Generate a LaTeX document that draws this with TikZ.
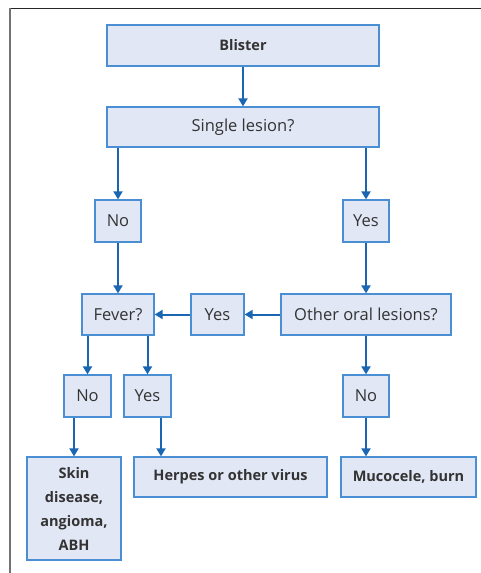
\documentclass[tikz,border=0pt]{standalone}
\usepackage{fontspec}
\setmainfont{Open Sans}
\usetikzlibrary{arrows.meta,calc}
\definecolor{boxfill}{HTML}{E1E7F5}
\definecolor{boxdraw}{HTML}{4A8FD4}
\definecolor{arr}{HTML}{1A66B3}
\definecolor{txt}{HTML}{333333}
\begin{document}
\begin{tikzpicture}[x=1pt,y=-1pt,
  box/.style={draw=boxdraw,fill=boxfill,line width=1.3pt,rectangle,inner sep=0pt,text=txt,font=\fontsize{16.5}{18}\selectfont},
  bbox/.style={box,font=\fontsize{14.5}{24}\selectfont\bfseries},
  arrow/.style={draw=arr,line width=2pt,-{Triangle[width=9pt,length=8pt]}}]
\useasboundingbox (0,0) rectangle (481,573);
% frame
\draw[line width=1.5pt,color=black!85] (9,8.5) -- (481,8.5);
\draw[line width=1.5pt,color=black!55] (10,8) -- (10,573);
% nodes
\node[bbox,minimum width=272pt,minimum height=41pt] (blister) at (243,45.5) {Blister};
\node[box,minimum width=272pt,minimum height=40pt] (single) at (243,127) {Single lesion?};
\node[box,minimum width=46pt,minimum height=42pt] (no1) at (118,221) {No};
\node[box,minimum width=46pt,minimum height=42pt] (yes1) at (366,221) {Yes};
\node[box,minimum width=72pt,minimum height=41pt] (fever) at (118,314.5) {Fever?};
\node[box,minimum width=53pt,minimum height=41pt] (yes2) at (217.5,314.5) {Yes};
\node[box,minimum width=170pt,minimum height=41pt] (other) at (366,314.5) {Other oral lesions?};
\node[box,minimum width=47pt,minimum height=42pt] (no2) at (87.5,396) {No};
\node[box,minimum width=47pt,minimum height=42pt] (yes3) at (147.5,396) {Yes};
\node[box,minimum width=46pt,minimum height=42pt] (no3) at (366,396) {No};
\node[bbox,text width=94pt,align=center,minimum height=103pt] (skin) at (74,508.5) {Skin\\disease,\\angioma,\\ABH};
\node[bbox,minimum width=193pt,minimum height=40pt] (herpes) at (230.5,477) {Herpes or other virus};
\node[bbox,minimum width=135pt,minimum height=40pt] (muco) at (408.5,477) {Mucocele, burn};
% connectors
\draw[arrow] (blister.south) -- (single.north);
\draw[arrow] (single.south -| no1.north) -- (no1.north);
\draw[arrow] (single.south -| yes1.north) -- (yes1.north);
\draw[arrow] (no1.south) -- (fever.north);
\draw[arrow] (yes1.south) -- (other.north);
\draw[arrow] (other.west) -- (yes2.east);
\draw[arrow] (yes2.west) -- (fever.east);
\draw[arrow] (fever.south -| no2.north) -- (no2.north);
\draw[arrow] (fever.south -| yes3.north) -- (yes3.north);
\draw[arrow] (other.south -| no3.north) -- (no3.north);
\draw[arrow] (no2.south -| skin.north) -- (skin.north);
\draw[arrow] ([xshift=13.5pt]yes3.south) -- ([xshift=13.5pt]yes3.south |- herpes.north);
\draw[arrow] (no3.south) -- (no3.south |- muco.north);
\end{tikzpicture}
\end{document}
